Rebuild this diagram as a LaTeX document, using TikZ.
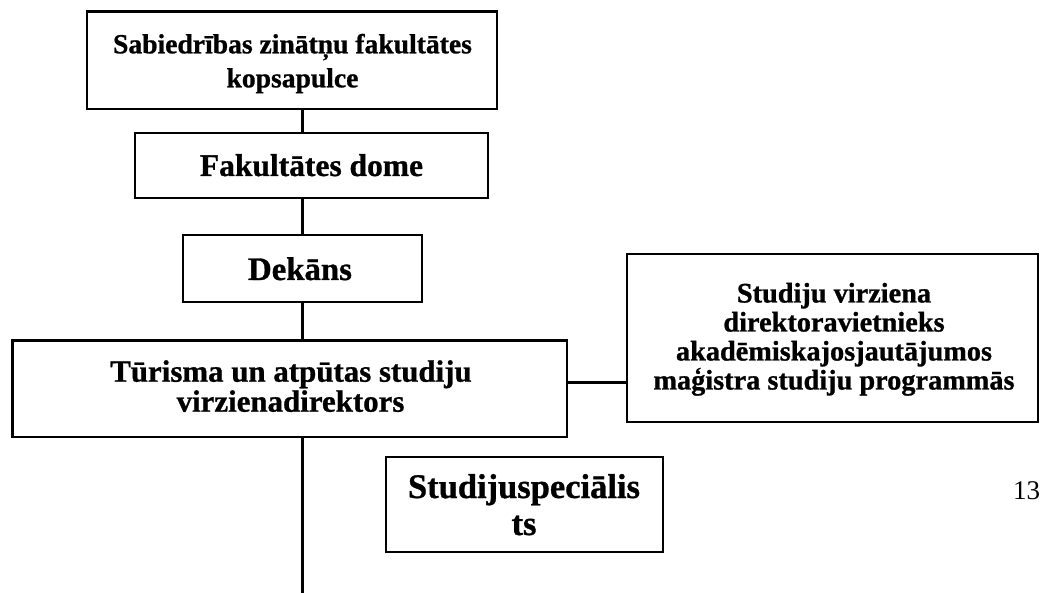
\documentclass[tikz,border=0pt]{standalone}
\usepackage{fontspec}
\setmainfont{Liberation Serif}[BoldFeatures={FakeBold=0.9}]
\begin{document}
\begin{tikzpicture}[x=1pt,y=-1pt,
  box/.style={draw=black, line width=2.6pt, rectangle, inner sep=0pt, outer sep=0pt},
  txt/.style={anchor=base, inner sep=0pt, outer sep=0pt, font=\bfseries},
  conn/.style={draw=black, line width=3pt}]
\useasboundingbox (0,0) rectangle (1042,593);
% boxes
\node[box, minimum width=410pt, minimum height=97.3pt] (b1) at (292,60.35) {};
\node[box, minimum width=353pt, minimum height=65pt] (b2) at (311.5,165.5) {};
\node[box, minimum width=239pt, minimum height=67pt] (b3) at (302.5,268.5) {};
\node[box, minimum width=554.3pt, minimum height=96.3pt] (b4) at (289.85,388.85) {};
\node[box, minimum width=411pt, minimum height=168pt] (b5) at (832.5,338) {};
\node[box, minimum width=277pt, minimum height=95pt] (b6) at (524.5,504.5) {};
% texts
\node[txt, font=\fontsize{27.6}{33}\selectfont\bfseries] (t1a) at (292.5,53.3) {Sabiedrības zinātņu fakultātes};
\node[txt, font=\fontsize{27.6}{33}\selectfont\bfseries] (t1b) at (292.5,87.3) {kopsapulce};
\node[txt, font=\fontsize{31.5}{36}\selectfont\bfseries] (t2) at (311.5,176) {Fakultātes dome};
\node[txt, font=\fontsize{32.8}{38}\selectfont\bfseries] (t3) at (300,280) {Dekāns};
\node[txt, font=\fontsize{30.9}{36}\selectfont\bfseries] (t4a) at (291,381.7) {Tūrisma un atpūtas studiju};
\node[txt, font=\fontsize{30.9}{36}\selectfont\bfseries] (t4b) at (290.5,411.7) {virzienadirektors};
\node[txt, font=\fontsize{28.3}{32}\selectfont\bfseries] (t5a) at (834,302.5) {Studiju virziena};
\node[txt, font=\fontsize{28.3}{32}\selectfont\bfseries] (t5b) at (834,331.5) {direktoravietnieks};
\node[txt, font=\fontsize{28.3}{32}\selectfont\bfseries] (t5c) at (834,360.5) {akadēmiskajosjautājumos};
\node[txt, font=\fontsize{28.3}{32}\selectfont\bfseries] (t5d) at (834,389.5) {maģistra studiju programmās};
\node[txt, font=\fontsize{34.5}{40}\selectfont\bfseries] (t6a) at (524,498) {Studijuspeciālis};
\node[txt, font=\fontsize{34.5}{40}\selectfont\bfseries] (t6b) at (524,535) {ts};
\node[anchor=base west, inner sep=0pt, font=\fontsize{27}{32}\selectfont] (pg) at (1013,500) {13};
% connectors
\coordinate (bend) at (302,593);
\draw[conn] (b1.south -| 302,0) -- (b2.north -| 302,0);
\draw[conn] (b2.south -| 302,0) -- (b3.north -| 302,0);
\draw[conn] (b3.south -| 302,0) -- (b4.north -| 302,0);
\draw[conn] (b4.south -| bend) -- (bend);
\draw[conn] (b4.east |- 0,382.5) -- (b5.west |- 0,382.5);
\end{tikzpicture}
\end{document}
